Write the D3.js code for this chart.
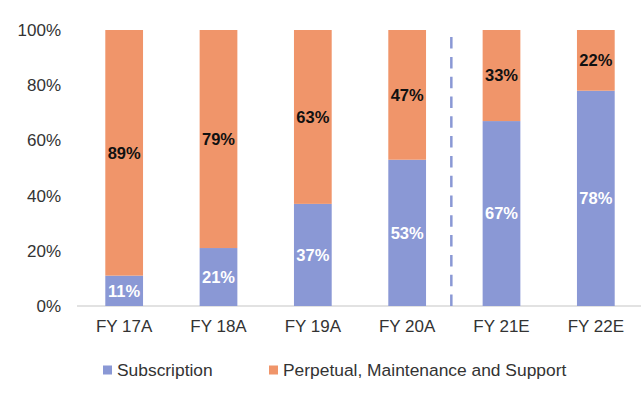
<!DOCTYPE html>
<html>
<head>
<meta charset="utf-8">
<script src="https://cdn.jsdelivr.net/npm/d3@7"></script>
<style>
  body { margin: 0; background: #fff; }
  text { font-family: "Liberation Sans", Arial, sans-serif; }
</style>
</head>
<body>
<svg width="641" height="396"></svg>
<script>
let categories = ["FY 17A", "FY 18A", "FY 19A", "FY 20A", "FY 21E", "FY 22E"]
let subscription = [11, 21, 37, 53, 67, 78]
let perpetual = [89, 79, 63, 47, 33, 22]
let yTicks = [0, 20, 40, 60, 80, 100]
let seriesNames = ["Subscription", "Perpetual, Maintenance and Support"]

let colors = {sub: "#8a98d5", perp: "#f0956a"}
let textColor = "#333"

let svg = d3.select("svg")
let margin = {top: 30, right: -2, bottom: 90, left: 77}
let width = +svg.attr("width") - margin.left - margin.right
let height = +svg.attr("height") - margin.top - margin.bottom

let x = d3.scaleBand().domain(categories).range([0, width])
    .paddingInner(0.6).paddingOuter(0.3)
let y = d3.scaleLinear().domain([0, 100]).range([height, 0])

let g = svg.append("g")
    .attr("transform", "translate(" + margin.left + "," + margin.top + ")")

let data = categories.map((c, i) => ({name: c, sub: subscription[i], perp: perpetual[i]}))

// y axis labels
g.selectAll(".ytick")
  .data(yTicks)
  .enter().append("text")
    .attr("class", "ytick")
    .attr("x", -16)
    .attr("y", d => y(d))
    .attr("dy", "0.35em")
    .attr("text-anchor", "end")
    .attr("font-size", "17px")
    .attr("fill", textColor)
    .text(d => d + "%")

// baseline
g.append("line")
    .attr("x1", 0).attr("x2", width)
    .attr("y1", y(0)).attr("y2", y(0))
    .attr("stroke", "#d9d9d9").attr("stroke-width", 1.5)

// bars
g.selectAll(".bar-sub")
  .data(data)
  .enter().append("rect")
    .attr("class", "bar-sub")
    .attr("x", d => x(d.name))
    .attr("y", d => y(d.sub))
    .attr("width", x.bandwidth())
    .attr("height", d => height - y(d.sub))
    .attr("fill", colors.sub)

g.selectAll(".bar-perp")
  .data(data)
  .enter().append("rect")
    .attr("class", "bar-perp")
    .attr("x", d => x(d.name))
    .attr("y", d => y(d.sub + d.perp))
    .attr("width", x.bandwidth())
    .attr("height", d => y(d.sub) - y(d.sub + d.perp))
    .attr("fill", colors.perp)

// labels
g.selectAll(".lab-sub")
  .data(data)
  .enter().append("text")
    .attr("x", d => x(d.name) + x.bandwidth() / 2)
    .attr("y", d => y(d.sub / 2))
    .attr("dy", "0.35em")
    .attr("text-anchor", "middle")
    .attr("font-size", "16.5px").attr("font-weight", "bold")
    .attr("fill", "#fff")
    .text(d => d.sub + "%")

g.selectAll(".lab-perp")
  .data(data)
  .enter().append("text")
    .attr("x", d => x(d.name) + x.bandwidth() / 2)
    .attr("y", d => y(d.sub + d.perp / 2))
    .attr("dy", "0.35em")
    .attr("text-anchor", "middle")
    .attr("font-size", "16.5px").attr("font-weight", "bold")
    .attr("fill", "#111")
    .text(d => d.perp + "%")

// x labels
g.selectAll(".xlab")
  .data(categories)
  .enter().append("text")
    .attr("x", d => x(d) + x.bandwidth() / 2)
    .attr("y", height + 20)
    .attr("dy", "0.35em")
    .attr("text-anchor", "middle")
    .attr("font-size", "17px")
    .attr("fill", textColor)
    .text(d => d)

// dashed divider between actuals and estimates
let divX = (x("FY 20A") + x.bandwidth() + x("FY 21E")) / 2 - 3
g.append("line")
    .attr("x1", divX).attr("x2", divX)
    .attr("y1", y(0)).attr("y2", y(100))
    .attr("stroke", colors.sub).attr("stroke-width", 2.5)
    .attr("stroke-dasharray", "11.5,8.3")

// legend
let legend = svg.append("g").attr("transform", "translate(103,370)")
let legendX = [0, 166]
seriesNames.forEach((name, i) => {
  let item = legend.append("g").attr("transform", "translate(" + legendX[i] + ",0)")
  item.append("rect")
      .attr("x", 0).attr("y", -4.5)
      .attr("width", 9).attr("height", 9)
      .attr("fill", i === 0 ? colors.sub : colors.perp)
  item.append("text")
      .attr("x", 14).attr("y", 0)
      .attr("dy", "0.35em")
      .attr("font-size", "17.4px")
      .attr("fill", textColor)
      .text(name)
})
</script>
</body>
</html>
